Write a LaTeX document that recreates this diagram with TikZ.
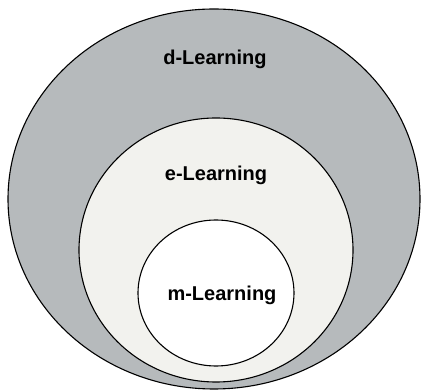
\documentclass[tikz,border=0pt]{standalone}
\usepackage{fontspec}
\setmainfont{Liberation Sans}
\usepackage{tikz}
\usetikzlibrary{positioning}

\definecolor{dgray}{RGB}{182,186,188}
\definecolor{egray}{RGB}{242,242,238}

\begin{document}
\begin{tikzpicture}[x=1pt,y=1pt]
\useasboundingbox (0,0) rectangle (421,391);
\fill[white] (0,0) rectangle (421,391);
\draw[line width=1.1pt,fill=dgray] (214,192) ellipse (206 and 190);
\draw[line width=1.1pt,fill=egray] (216,141) ellipse (137 and 132);
\draw[line width=1.1pt,fill=white] (216,98) ellipse (78 and 73);
\node[font=\bfseries\fontsize{20}{23}\selectfont] (dlearn) at (215,332) {d-Learning};
\node[font=\bfseries\fontsize{20}{23}\selectfont] (elearn) at (216,216) {e-Learning};
\node[font=\bfseries\fontsize{20}{23}\selectfont] (mlearn) at (222,96) {m-Learning};
\end{tikzpicture}
\end{document}
